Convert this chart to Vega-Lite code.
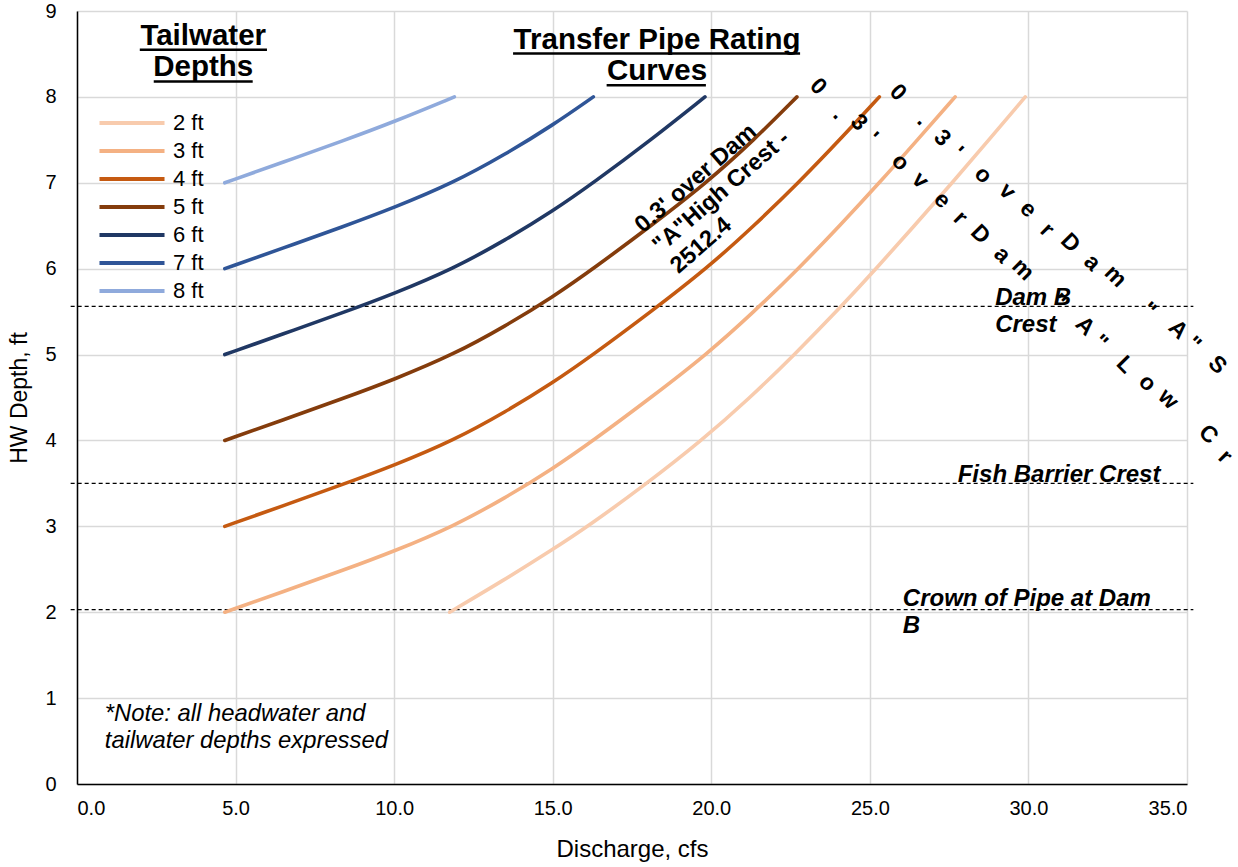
{
  "$schema": "https://vega.github.io/schema/vega-lite/v6.json",
  "width": 1110,
  "height": 773,
  "autosize": "none",
  "padding": {"left": 77, "top": 11, "right": 51, "bottom": 83},
  "background": "white",
  "config": {
    "font": "Liberation Sans",
    "view": {"stroke": null},
    "text": {"font": "Liberation Sans", "color": "black"}
  },
  "data": {"values": [{}]},
  "datasets": {
    "curves": [
      {"tw": "2 ft", "q": 11.75, "hw": 2.0}, {"tw": "2 ft", "q": 13.4, "hw": 2.36}, {"tw": "2 ft", "q": 15.0, "hw": 2.73}, {"tw": "2 ft", "q": 16.15, "hw": 3.01}, {"tw": "2 ft", "q": 17.9, "hw": 3.48}, {"tw": "2 ft", "q": 19.7, "hw": 4.0}, {"tw": "2 ft", "q": 21.2, "hw": 4.49}, {"tw": "2 ft", "q": 22.6, "hw": 4.99}, {"tw": "2 ft", "q": 24.1, "hw": 5.56}, {"tw": "2 ft", "q": 25.2, "hw": 6.0}, {"tw": "2 ft", "q": 26.4, "hw": 6.5}, {"tw": "2 ft", "q": 27.6, "hw": 7.0}, {"tw": "2 ft", "q": 28.75, "hw": 7.5}, {"tw": "2 ft", "q": 29.9, "hw": 8.0},
      {"tw": "3 ft", "q": 4.66, "hw": 2.0}, {"tw": "3 ft", "q": 6.5, "hw": 2.24}, {"tw": "3 ft", "q": 8.4, "hw": 2.49}, {"tw": "3 ft", "q": 10.0, "hw": 2.71}, {"tw": "3 ft", "q": 11.87, "hw": 3.0}, {"tw": "3 ft", "q": 13.5, "hw": 3.33}, {"tw": "3 ft", "q": 15.0, "hw": 3.67}, {"tw": "3 ft", "q": 16.28, "hw": 4.0}, {"tw": "3 ft", "q": 18.1, "hw": 4.5}, {"tw": "3 ft", "q": 19.85, "hw": 5.0}, {"tw": "3 ft", "q": 21.35, "hw": 5.5}, {"tw": "3 ft", "q": 22.75, "hw": 6.0}, {"tw": "3 ft", "q": 24.05, "hw": 6.5}, {"tw": "3 ft", "q": 25.3, "hw": 7.0}, {"tw": "3 ft", "q": 26.5, "hw": 7.5}, {"tw": "3 ft", "q": 27.69, "hw": 8.0},
      {"tw": "4 ft", "q": 4.66, "hw": 3.0}, {"tw": "4 ft", "q": 6.5, "hw": 3.24}, {"tw": "4 ft", "q": 8.4, "hw": 3.49}, {"tw": "4 ft", "q": 10.0, "hw": 3.71}, {"tw": "4 ft", "q": 11.87, "hw": 4.0}, {"tw": "4 ft", "q": 13.5, "hw": 4.33}, {"tw": "4 ft", "q": 15.0, "hw": 4.67}, {"tw": "4 ft", "q": 16.28, "hw": 5.0}, {"tw": "4 ft", "q": 18.1, "hw": 5.5}, {"tw": "4 ft", "q": 19.85, "hw": 6.0}, {"tw": "4 ft", "q": 21.35, "hw": 6.5}, {"tw": "4 ft", "q": 22.75, "hw": 7.0}, {"tw": "4 ft", "q": 24.05, "hw": 7.5}, {"tw": "4 ft", "q": 25.3, "hw": 8.0},
      {"tw": "5 ft", "q": 4.66, "hw": 4.0}, {"tw": "5 ft", "q": 6.5, "hw": 4.24}, {"tw": "5 ft", "q": 8.4, "hw": 4.49}, {"tw": "5 ft", "q": 10.0, "hw": 4.71}, {"tw": "5 ft", "q": 11.87, "hw": 5.0}, {"tw": "5 ft", "q": 13.5, "hw": 5.33}, {"tw": "5 ft", "q": 15.0, "hw": 5.67}, {"tw": "5 ft", "q": 16.28, "hw": 6.0}, {"tw": "5 ft", "q": 18.1, "hw": 6.5}, {"tw": "5 ft", "q": 19.85, "hw": 7.0}, {"tw": "5 ft", "q": 21.35, "hw": 7.5}, {"tw": "5 ft", "q": 22.7, "hw": 8.0},
      {"tw": "6 ft", "q": 4.66, "hw": 5.0}, {"tw": "6 ft", "q": 6.5, "hw": 5.24}, {"tw": "6 ft", "q": 8.4, "hw": 5.49}, {"tw": "6 ft", "q": 10.0, "hw": 5.71}, {"tw": "6 ft", "q": 11.87, "hw": 6.0}, {"tw": "6 ft", "q": 13.5, "hw": 6.33}, {"tw": "6 ft", "q": 15.0, "hw": 6.67}, {"tw": "6 ft", "q": 16.28, "hw": 7.0}, {"tw": "6 ft", "q": 18.1, "hw": 7.5}, {"tw": "6 ft", "q": 19.8, "hw": 8.0},
      {"tw": "7 ft", "q": 4.66, "hw": 6.0}, {"tw": "7 ft", "q": 6.5, "hw": 6.24}, {"tw": "7 ft", "q": 8.4, "hw": 6.49}, {"tw": "7 ft", "q": 10.0, "hw": 6.71}, {"tw": "7 ft", "q": 11.87, "hw": 7.0}, {"tw": "7 ft", "q": 13.5, "hw": 7.33}, {"tw": "7 ft", "q": 15.0, "hw": 7.67}, {"tw": "7 ft", "q": 16.28, "hw": 8.0},
      {"tw": "8 ft", "q": 4.66, "hw": 7.0}, {"tw": "8 ft", "q": 6.5, "hw": 7.24}, {"tw": "8 ft", "q": 8.4, "hw": 7.49}, {"tw": "8 ft", "q": 10.0, "hw": 7.71}, {"tw": "8 ft", "q": 11.9, "hw": 8.0}
    ],
    "levels": [
      {"name": "Dam B Crest", "hw": 5.56},
      {"name": "Fish Barrier Crest", "hw": 3.5},
      {"name": "Crown of Pipe at Dam B", "hw": 2.03}
    ],
    "chars": [
      {"ch": "0", "q": 23.37, "hw": 8.12}, {"ch": ".", "q": 24.03, "hw": 7.81}, {"ch": "3", "q": 24.66, "hw": 7.7}, {"ch": "'", "q": 25.07, "hw": 7.52}, {"ch": "o", "q": 25.96, "hw": 7.24}, {"ch": "v", "q": 26.59, "hw": 7.03}, {"ch": "e", "q": 27.28, "hw": 6.8}, {"ch": "r", "q": 27.85, "hw": 6.59}, {"ch": "D", "q": 28.48, "hw": 6.4}, {"ch": "a", "q": 29.17, "hw": 6.16}, {"ch": "m", "q": 29.83, "hw": 5.99}, {"ch": "\"", "q": 30.94, "hw": 5.62}, {"ch": "A", "q": 31.79, "hw": 5.33}, {"ch": "\"", "q": 32.26, "hw": 5.14}, {"ch": "L", "q": 33.05, "hw": 4.88}, {"ch": "o", "q": 33.75, "hw": 4.67}, {"ch": "w", "q": 34.41, "hw": 4.48}, {"ch": "C", "q": 35.67, "hw": 4.07}, {"ch": "r", "q": 36.2, "hw": 3.81},
      {"ch": "0", "q": 25.89, "hw": 8.05}, {"ch": ".", "q": 26.68, "hw": 7.74}, {"ch": "3", "q": 27.28, "hw": 7.52}, {"ch": "'", "q": 27.75, "hw": 7.35}, {"ch": "o", "q": 28.57, "hw": 7.09}, {"ch": "v", "q": 29.33, "hw": 6.9}, {"ch": "e", "q": 29.99, "hw": 6.69}, {"ch": "r", "q": 30.59, "hw": 6.45}, {"ch": "D", "q": 31.32, "hw": 6.3}, {"ch": "a", "q": 32.01, "hw": 6.07}, {"ch": "m", "q": 32.74, "hw": 5.91}, {"ch": "\"", "q": 33.78, "hw": 5.52}, {"ch": "A", "q": 34.72, "hw": 5.29}, {"ch": "\"", "q": 35.2, "hw": 5.12}, {"ch": "S", "q": 35.96, "hw": 4.88}
    ]
  },
  "layer": [
    {
      "data": {"name": "levels"},
      "mark": {"type": "rule", "color": "black", "strokeWidth": 1.2, "strokeDash": [4, 3]},
      "encoding": {
        "x": {"datum": -0.2, "type": "quantitative"},
        "x2": {"datum": 35.2},
        "y": {"field": "hw", "type": "quantitative"}
      }
    },
    {
      "data": {"name": "curves"},
      "mark": {"type": "line", "interpolate": "basis", "strokeWidth": 3.6, "strokeCap": "round"},
      "encoding": {
        "x": {
          "field": "q", "type": "quantitative",
          "scale": {"domain": [0, 35], "nice": false, "zero": false},
          "axis": {
            "values": [0, 5, 10, 15, 20, 25, 30, 35], "format": ".1f",
            "title": "Discharge, cfs", "titleFontSize": 24, "titleFontWeight": "normal", "titleColor": "black", "titlePadding": 19,
            "labelFontSize": 20, "labelColor": "black", "labelPadding": 14,
            "ticks": false, "domainColor": "black", "domainWidth": 1.5,
            "grid": true, "gridColor": "#D9D9D9", "gridWidth": 1.5
          }
        },
        "y": {
          "field": "hw", "type": "quantitative",
          "scale": {"domain": [0, 9], "nice": false, "zero": false},
          "axis": {
            "values": [0, 1, 2, 3, 4, 5, 6, 7, 8, 9], "format": "d",
            "title": "HW Depth, ft", "titleFontSize": 23, "titleFontWeight": "normal", "titleColor": "black", "titlePadding": 13,
            "labelFontSize": 20, "labelColor": "black", "labelPadding": 21,
            "ticks": false, "domainColor": "black", "domainWidth": 1.5,
            "grid": true, "gridColor": "#D9D9D9", "gridWidth": 1.5
          }
        },
        "color": {
          "field": "tw", "type": "nominal",
          "scale": {
            "domain": ["2 ft", "3 ft", "4 ft", "5 ft", "6 ft", "7 ft", "8 ft"],
            "range": ["#F8CBAD", "#F4B183", "#C55A11", "#843C0C", "#203864", "#2F5597", "#8FAADC"]
          },
          "legend": {
            "orient": "none", "legendX": 42, "legendY": 99, "title": null,
            "symbolType": "M-3,0H3", "symbolSize": 470, "symbolStrokeWidth": 4,
            "labelFontSize": 22, "labelColor": "black", "labelOffset": 28,
            "rowPadding": 4, "padding": 0
          }
        }
      }
    },
    {
      "data": {"name": "chars"},
      "mark": {"type": "text", "angle": 45, "fontSize": 23, "fontWeight": "bold", "align": "center", "baseline": "middle"},
      "encoding": {
        "x": {"field": "q", "type": "quantitative"},
        "y": {"field": "hw", "type": "quantitative"},
        "text": {"field": "ch"}
      }
    },
    {
      "mark": {"type": "text", "text": ["0.3' over Dam", "\"A\"High Crest -", "2512.4"], "angle": -41, "fontSize": 23.5, "fontWeight": "bold", "align": "left", "baseline": "alphabetic", "lineHeight": 27},
      "encoding": {"x": {"datum": 17.85, "type": "quantitative"}, "y": {"datum": 6.41, "type": "quantitative"}}
    },
    {
      "mark": {"type": "text", "text": ["Tailwater", "Depths"], "fontSize": 29.5, "fontWeight": "bold", "align": "center", "baseline": "alphabetic", "lineHeight": 31},
      "encoding": {"x": {"datum": 3.98, "type": "quantitative"}, "y": {"datum": 8.605, "type": "quantitative"}}
    },
    {
      "mark": {"type": "text", "text": ["Transfer Pipe Rating", "Curves"], "fontSize": 29.5, "fontWeight": "bold", "align": "center", "baseline": "alphabetic", "lineHeight": 31},
      "encoding": {"x": {"datum": 18.29, "type": "quantitative"}, "y": {"datum": 8.558, "type": "quantitative"}}
    },
    {
      "mark": {"type": "rule", "color": "black", "strokeWidth": 2.5},
      "encoding": {"x": {"datum": 1.98, "type": "quantitative"}, "x2": {"datum": 5.99}, "y": {"datum": 8.55, "type": "quantitative"}}
    },
    {
      "mark": {"type": "rule", "color": "black", "strokeWidth": 2.5},
      "encoding": {"x": {"datum": 2.42, "type": "quantitative"}, "x2": {"datum": 5.54}, "y": {"datum": 8.18, "type": "quantitative"}}
    },
    {
      "mark": {"type": "rule", "color": "black", "strokeWidth": 2.5},
      "encoding": {"x": {"datum": 13.75, "type": "quantitative"}, "x2": {"datum": 22.8}, "y": {"datum": 8.505, "type": "quantitative"}}
    },
    {
      "mark": {"type": "rule", "color": "black", "strokeWidth": 2.5},
      "encoding": {"x": {"datum": 16.7, "type": "quantitative"}, "x2": {"datum": 19.83}, "y": {"datum": 8.135, "type": "quantitative"}}
    },
    {
      "mark": {"type": "text", "text": ["Dam B", "Crest"], "fontSize": 24, "fontWeight": "bold", "fontStyle": "italic", "align": "left", "baseline": "alphabetic", "lineHeight": 27},
      "encoding": {"x": {"datum": 28.95, "type": "quantitative"}, "y": {"datum": 5.581, "type": "quantitative"}}
    },
    {
      "mark": {"type": "text", "text": "Fish Barrier Crest", "fontSize": 24, "fontWeight": "bold", "fontStyle": "italic", "align": "left", "baseline": "alphabetic"},
      "encoding": {"x": {"datum": 27.77, "type": "quantitative"}, "y": {"datum": 3.515, "type": "quantitative"}}
    },
    {
      "mark": {"type": "text", "text": ["Crown of Pipe at Dam", "B"], "fontSize": 24, "fontWeight": "bold", "fontStyle": "italic", "align": "left", "baseline": "alphabetic", "lineHeight": 27},
      "encoding": {"x": {"datum": 26.04, "type": "quantitative"}, "y": {"datum": 2.073, "type": "quantitative"}}
    },
    {
      "mark": {"type": "text", "text": ["*Note: all headwater and", "tailwater depths expressed"], "fontSize": 23.8, "fontStyle": "italic", "align": "left", "baseline": "alphabetic", "lineHeight": 27},
      "encoding": {"x": {"datum": 0.877, "type": "quantitative"}, "y": {"datum": 0.736, "type": "quantitative"}}
    }
  ]
}
